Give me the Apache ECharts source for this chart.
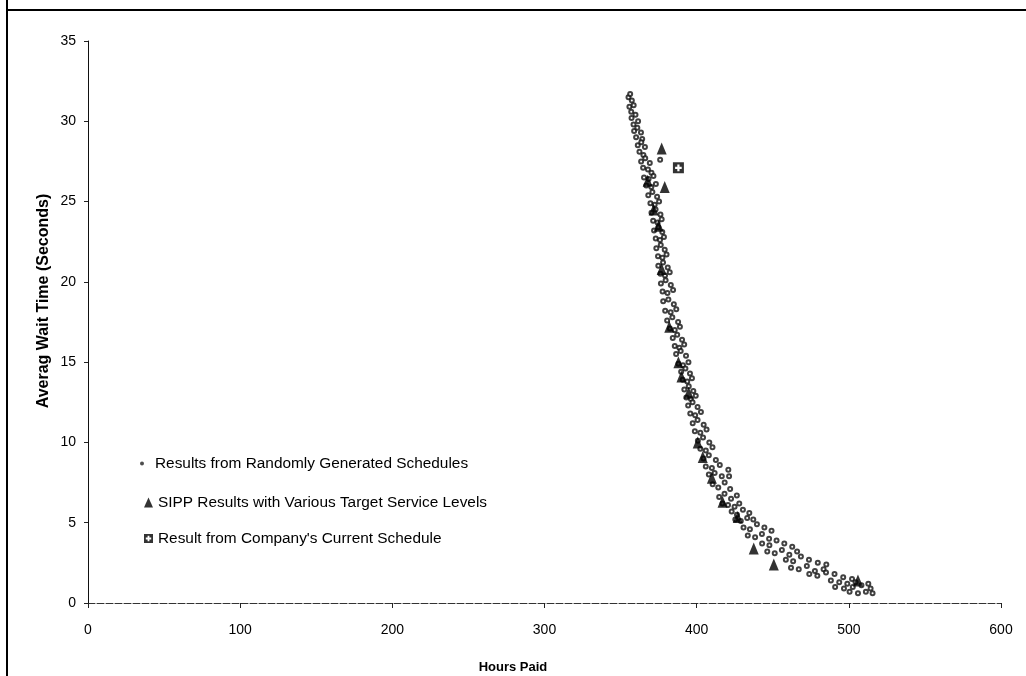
<!DOCTYPE html>
<html>
<head>
<meta charset="utf-8">
<script src="https://cdn.jsdelivr.net/npm/echarts@6/dist/echarts.min.js"></script>
<style>
html,body{margin:0;padding:0;background:#fff;}
#chart{width:1026px;height:676px;}
</style>
</head>
<body>
<div id="chart"></div>
<script>
// ---- Data ----
const xTicks = [0, 100, 200, 300, 400, 500, 600];
const yTicks = [0, 5, 10, 15, 20, 25, 30, 35];
const seriesNames = [
  'Results from Randomly Generated Schedules',
  'SIPP Results with Various Target Service Levels',
  "Result from Company's Current Schedule"
];
const xTitle = 'Hours Paid';
const yTitle = 'Averag Wait Time (Seconds)';

// Randomly generated schedules: [hours paid, avg wait seconds]
const randomPoints = [
  [355.2,31.5],[357.4,31.3],[356.3,31.7],
  [355.8,30.9],[358.6,31.0],[357.0,30.6],
  [357.2,30.2],[359.8,30.4],[361.5,30.0],[358.5,29.8],
  [358.9,29.4],[361.0,29.6],[363.4,29.3],[360.2,29.0],[364.2,28.9],
  [361.3,28.5],[363.6,28.7],[366.0,28.4],[362.4,28.1],[365.0,27.9],
  [363.5,27.5],[366.2,27.7],[369.2,27.4],[364.8,27.1],[368.0,27.0],[370.3,26.8],[376.0,27.6],
  [365.4,26.5],[368.4,26.4],[371.6,26.6],[366.9,26.0],[370.2,25.9],[373.2,26.1],
  [368.2,25.4],[370.9,25.6],[374.0,25.3],[369.6,24.9],[372.4,24.8],[375.3,25.0],
  [370.3,24.3],[373.0,24.5],[376.2,24.2],[371.4,23.8],[374.3,23.7],[377.0,23.9],
  [372.0,23.2],[374.8,23.4],[377.4,23.1],[373.1,22.7],[375.9,22.6],[378.5,22.8],
  [373.5,22.1],[376.4,22.3],[379.0,22.0],[374.6,21.6],[377.5,21.5],[380.2,21.7],
  [374.8,21.0],[377.9,21.2],[381.0,20.9],[376.2,20.5],[379.2,20.4],[382.3,20.6],
  [376.5,19.9],[379.6,20.1],[383.0,19.8],[377.6,19.4],[380.8,19.3],[384.5,19.5],
  [378.0,18.8],[381.4,18.9],[385.0,18.6],[379.3,18.2],[382.9,18.1],[386.6,18.3],
  [380.6,17.6],[384.0,17.8],[387.8,17.5],[382.4,17.1],[385.6,17.0],[389.0,17.2],
  [384.3,16.5],[387.2,16.7],[390.4,16.4],[385.6,16.0],[388.6,15.9],[391.8,16.1],
  [386.5,15.5],[389.5,15.7],[393.0,15.4],[388.0,14.9],[391.0,14.8],[394.6,15.0],
  [389.8,14.4],[392.6,14.6],[395.6,14.3],[390.8,13.9],[393.8,13.8],[396.9,14.0],
  [391.9,13.3],[394.8,13.5],[397.8,13.2],[393.2,12.8],[396.2,12.7],[399.4,12.9],
  [394.4,12.3],[397.3,12.5],[400.6,12.2],[395.8,11.8],[399.0,11.7],[402.8,11.9],
  [397.4,11.2],[400.6,11.4],[404.6,11.1],[398.8,10.7],[402.4,10.6],[406.5,10.8],
  [400.8,10.1],[404.2,10.3],[408.3,10.0],[402.4,9.6],[406.0,9.5],[410.4,9.7],
  [404.5,9.0],[408.0,9.2],[412.6,8.9],[406.0,8.5],[410.0,8.4],[415.2,8.6],
  [408.0,8.0],[411.8,8.1],[416.5,7.9],[420.8,8.3],[421.3,7.9],
  [410.5,7.4],[414.2,7.2],[418.4,7.5],[422.0,7.1],
  [414.8,6.6],[418.3,6.8],[422.6,6.5],[426.4,6.7],[417.0,6.2],[420.6,6.1],[424.9,6.0],[428.0,6.2],
  [423.0,5.7],[426.5,5.5],[430.4,5.8],[434.6,5.6],[425.4,5.2],[429.0,5.1],[433.2,5.3],[437.2,5.2],
  [430.8,4.7],[435.0,4.6],[439.6,4.9],[444.5,4.7],[449.2,4.5],[433.6,4.2],[438.4,4.1],[442.9,4.3],[447.6,4.0],
  [443.0,3.7],[447.8,3.6],[452.5,3.9],[457.6,3.7],[462.8,3.5],[446.4,3.2],[451.3,3.1],[456.0,3.3],[460.9,3.0],[466.0,3.2],
  [458.6,2.7],[463.4,2.6],[468.5,2.9],[473.8,2.7],[479.6,2.5],[485.2,2.4],[462.0,2.2],[467.1,2.1],[472.4,2.3],[477.7,2.0],[483.4,2.1],
  [474.0,1.8],[479.3,1.7],[485.0,1.9],[490.6,1.8],[496.3,1.6],[502.1,1.5],[488.2,1.4],[493.7,1.3],[499.0,1.2],[504.4,1.3],
  [491.0,1.0],[496.8,0.9],[502.6,1.0],[508.3,1.1],[512.8,1.2],[500.5,0.7],[506.0,0.6],[511.2,0.7],[515.6,0.6],[514.3,0.9]
];

// SIPP results
const sippPoints = [
  [377.0,28.3],[367.8,26.3],[379.0,25.9],[371.7,24.5],[375.0,23.5],[377.0,20.8],[382.0,17.2],
  [388.0,15.0],[390.0,14.1],[394.7,13.1],[400.7,10.0],[404.0,9.1],[410.0,7.8],[417.0,6.3],
  [427.0,5.35],[437.5,3.4],[450.7,2.4],[506.0,1.4]
];

// Company's current schedule
const currentPoint = [[388.0,27.1]];

// ---- Chart ----
const squarePlus = 'path://M0,0L10,0L10,10L0,10Z M4,2L4,4L2,4L2,6L4,6L4,8L6,8L6,6L8,6L8,4L6,4L6,2Z';
const FONT = 'Liberation Sans, Arial, sans-serif';

const chart = echarts.init(document.getElementById('chart'), null, {renderer: 'canvas'});
chart.setOption({
  backgroundColor: '#ffffff',
  animation: false,
  grid: {left: 88, right: 25, top: 41, bottom: 73, containLabel: false},
  xAxis: {
    type: 'value', min: xTicks[0], max: xTicks[xTicks.length - 1], interval: 100,
    axisLine: {show: true, lineStyle: {color: '#333', width: 1, type: [7, 2]}},
    axisTick: {show: true, inside: false, length: 5, lineStyle: {color: '#222'}},
    axisLabel: {margin: 20, color: '#000', fontSize: 14, fontFamily: FONT},
    splitLine: {show: false}
  },
  yAxis: {
    type: 'value', min: yTicks[0], max: yTicks[yTicks.length - 1], interval: 5,
    axisLine: {show: true, lineStyle: {color: '#111', width: 1}},
    axisTick: {show: true, inside: false, length: 4, lineStyle: {color: '#222'}},
    axisLabel: {margin: 12, color: '#000', fontSize: 14, fontFamily: FONT},
    splitLine: {show: false}
  },
  legend: [
    {
      orient: 'vertical', left: 135, top: 451,
      itemWidth: 16, itemHeight: 4,
      textStyle: {color: '#000', fontSize: 15.4, fontFamily: FONT},
      data: [{name: seriesNames[0], icon: 'circle', itemStyle: {color: '#222', borderWidth: 0}}]
    },
    {
      orient: 'vertical', left: 139, top: 490, itemGap: 21,
      itemWidth: 9, itemHeight: 10,
      textStyle: {color: '#000', fontSize: 15.4, fontFamily: FONT},
      data: [{name: seriesNames[1], icon: 'triangle'}, {name: seriesNames[2], icon: squarePlus}]
    }
  ],
  graphic: [
    {type: 'line', shape: {x1: 7, y1: 10, x2: 1026, y2: 10}, style: {stroke: '#000', lineWidth: 2}, silent: true},
    {type: 'line', shape: {x1: 7, y1: 0, x2: 7, y2: 676}, style: {stroke: '#000', lineWidth: 2}, silent: true},
    {type: 'text', x: 513, y: 661, style: {text: xTitle, fill: '#000', font: 'bold 13px ' + FONT, textAlign: 'center'}},
    {type: 'text', x: 44, y: 301, rotation: Math.PI / 2,
      style: {text: yTitle, fill: '#000', font: 'bold 16px ' + FONT, textAlign: 'center', textVerticalAlign: 'middle'}}
  ],
  series: [
    {
      name: seriesNames[0], type: 'scatter', data: randomPoints,
      symbol: 'emptyCircle', symbolSize: 4,
      itemStyle: {color: '#111', borderWidth: 1}
    },
    {
      name: seriesNames[1], type: 'scatter', data: sippPoints,
      symbol: 'triangle', symbolSize: [10, 12],
      itemStyle: {color: '#000'}
    },
    {
      name: seriesNames[2], type: 'scatter', data: currentPoint,
      symbol: squarePlus, symbolSize: 11,
      itemStyle: {color: '#000'}
    }
  ]
});
</script>
</body>
</html>
